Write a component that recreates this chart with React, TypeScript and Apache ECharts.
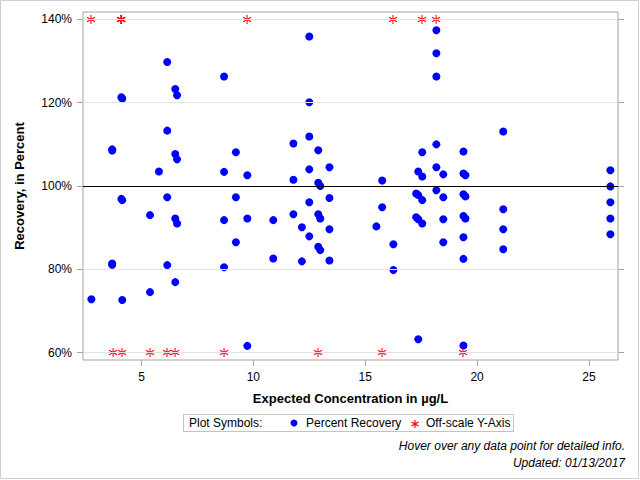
import React, { useEffect, useRef } from 'react';
import * as echarts from 'echarts';

// Percent Recovery points: expected concentration (µg/L) and recovery (%)
const recoveryConc = [
  2.76,
  3.69, 3.69, 3.69, 3.69,
  4.10, 4.14, 4.10, 4.14, 4.14,
  5.38, 5.38,
  5.78,
  6.15, 6.15, 6.15, 6.15,
  6.51, 6.51, 6.51, 6.51,
  6.59, 6.59, 6.59,
  8.69, 8.69, 8.69, 8.69,
  9.22, 9.22, 9.22,
  9.73, 9.73, 9.73,
  10.89, 10.89,
  11.79, 11.79, 11.79,
  12.17, 12.17,
  12.50, 12.50, 12.50, 12.50, 12.50, 12.50,
  12.90, 12.90, 12.90, 12.90,
  12.99, 12.99, 12.99,
  13.40, 13.40, 13.40, 13.40,
  15.50,
  15.76, 15.76,
  16.26, 16.26,
  17.28, 17.28,
  17.37, 17.37, 17.37, 17.37,
  17.55, 17.55, 17.55, 17.55,
  18.18, 18.18, 18.18, 18.18, 18.18, 18.18,
  18.49, 18.49, 18.49, 18.49,
  19.39, 19.39, 19.39, 19.39, 19.39, 19.39, 19.39,
  19.48, 19.48, 19.48,
  21.17, 21.17, 21.17, 21.17,
  25.96, 25.96, 25.96, 25.96, 25.96,
];
const recoveryPct = [
  72.8,
  108.8, 108.5, 81.4, 81.1,
  121.3, 121.0, 96.9, 96.6, 72.6,
  93.0, 74.5,
  103.5,
  129.8, 113.3, 97.3, 81.0,
  123.3, 107.7, 92.2, 76.9,
  121.8, 106.4, 91.0,
  126.3, 103.4, 91.8, 80.5,
  108.1, 97.3, 86.5,
  102.6, 92.2, 61.6,
  91.8, 82.6,
  110.2, 101.5, 93.2,
  90.1, 81.9,
  135.9, 120.1, 111.9, 104.0, 96.1, 87.9,
  108.6, 100.8, 93.2, 85.4,
  100.0, 92.2, 84.6,
  104.5, 97.1, 89.6, 82.1,
  90.3,
  101.3, 94.9,
  86.0, 79.8,
  98.2, 92.5,
  103.5, 97.8, 92.0, 63.2,
  108.1, 102.3, 96.6, 91.0,
  137.4, 131.9, 126.3, 110.0, 104.5, 99.0,
  102.8, 97.3, 92.0, 86.5,
  108.3, 103.0, 98.0, 92.8, 87.7, 82.5, 61.7,
  102.6, 97.5, 92.2,
  113.1, 94.4, 89.6, 84.8,
  103.8, 99.9, 96.1, 92.2, 88.4,
];

// Off-scale points, drawn at the edge of the Y axis
const offscaleConc = [2.74, 4.07, 4.11, 9.72, 16.24, 17.54, 18.17, 3.73, 4.13, 5.38, 6.14, 6.50, 8.69, 12.89, 15.75, 19.37];
const offscalePct = [140, 140, 140, 140, 140, 140, 140, 60, 60, 60, 60, 60, 60, 60, 60, 60];

const yTicks = [60, 80, 100, 120, 140];
const xTicks = [5, 10, 15, 20, 25];
const gridLineValues = [60, 80, 120, 140];
const referenceValue = 100;

const FONT = '"Liberation Sans", Arial, sans-serif';
const ASTERISK = 'path://M5,0L5,10M0.67,2.5L9.33,7.5M0.67,7.5L9.33,2.5';

export default function App() {
  const ref = useRef<HTMLDivElement>(null);
  useEffect(() => {
    if (!ref.current) return;
    const chart = echarts.init(ref.current, undefined, { renderer: 'svg' });
    const recoveryData = recoveryConc.map((x, i) => [x, recoveryPct[i]]);
    const offscaleData = offscaleConc.map((x, i) => [x, offscalePct[i]]);
    const axisGray = '#a3a3a3';
    const legendY = 423;
    chart.setOption({
      animation: false,
      backgroundColor: '#ffffff',
      grid: {
        left: 83, right: 22, top: 12, bottom: 120,
        show: true, borderColor: axisGray, borderWidth: 1, backgroundColor: 'transparent',
      },
      xAxis: {
        type: 'value', min: 2.385, max: 26.3,
        name: 'Expected Concentration in µg/L', nameLocation: 'middle', nameGap: 32,
        nameTextStyle: { fontFamily: FONT, fontSize: 13, fontWeight: 'bold', color: '#000' },
        axisLine: { show: false },
        axisTick: { show: true, length: 6, lineStyle: { color: axisGray }, customValues: xTicks },
        axisLabel: { color: '#000', fontFamily: FONT, fontSize: 12, margin: 11, customValues: xTicks },
        splitLine: { show: false },
      },
      yAxis: [
        {
          type: 'value', min: 58.2, max: 141.8, position: 'left',
          name: 'Recovery, in Percent', nameLocation: 'middle', nameGap: 57,
          nameTextStyle: { fontFamily: FONT, fontSize: 13, fontWeight: 'bold', color: '#000' },
          axisLine: { show: false },
          axisTick: { show: true, length: 6, lineStyle: { color: axisGray }, customValues: yTicks },
          axisLabel: { color: '#000', fontFamily: FONT, fontSize: 12, margin: 11, formatter: '{value}%', customValues: yTicks },
          splitLine: { show: false },
        },
        {
          type: 'value', min: 58.2, max: 141.8, position: 'right',
          axisLine: { show: false },
          axisTick: { show: true, length: 6, lineStyle: { color: axisGray }, customValues: yTicks },
          axisLabel: { show: false, customValues: yTicks },
          splitLine: { show: false },
        },
      ],
      series: [
        {
          name: 'grid lines',
          type: 'line',
          data: [],
          z: 1,
          silent: true,
          markLine: {
            silent: true,
            symbol: 'none',
            animation: false,
            label: { show: false },
            data: [
              ...gridLineValues.map((v) => ({ yAxis: v, lineStyle: { color: '#e3e3e3', width: 1, type: 'solid' } })),
              { yAxis: referenceValue, lineStyle: { color: '#000000', width: 1, type: 'solid' } },
            ],
          },
        },
        {
          name: 'Percent Recovery',
          type: 'scatter',
          z: 3,
          symbol: 'circle',
          symbolSize: 8,
          itemStyle: { color: '#0000ff', opacity: 1 },
          data: recoveryData,
        },
        {
          name: 'Off-scale Y-Axis',
          type: 'scatter',
          z: 4,
          symbol: ASTERISK,
          symbolSize: [8, 9],
          itemStyle: { color: '#ff0000', borderColor: '#ff0000', borderWidth: 1.1, opacity: 1 },
          data: offscaleData,
        },
      ],
      graphic: [
        {
          type: 'rect', silent: true, z: 0,
          shape: { x: 0.5, y: 0.5, width: 638, height: 478 },
          style: { fill: 'none', stroke: '#cfcfcf', lineWidth: 1 },
        },
        {
          type: 'rect', silent: true,
          shape: { x: 183.5, y: 414.5, width: 330, height: 17 },
          style: { fill: '#ffffff', stroke: '#c3c3c3', lineWidth: 1 },
        },
        {
          type: 'text', silent: true, x: 189, y: legendY,
          style: { text: 'Plot Symbols:', fontFamily: FONT, fontSize: 12, fill: '#000', verticalAlign: 'middle', align: 'left' },
        },
        {
          type: 'circle', silent: true,
          shape: { cx: 294, cy: legendY, r: 3.5 },
          style: { fill: '#0000ff' },
        },
        {
          type: 'text', silent: true, x: 306, y: legendY,
          style: { text: 'Percent Recovery', fontFamily: FONT, fontSize: 12, fill: '#000', verticalAlign: 'middle', align: 'left' },
        },
        {
          type: 'group', silent: true, x: 415, y: legendY + 1,
          children: [
            { type: 'line', shape: { x1: 0, y1: -4, x2: 0, y2: 4 }, style: { stroke: '#ff0000', lineWidth: 1.2 } },
            { type: 'line', shape: { x1: -3.5, y1: -2, x2: 3.5, y2: 2 }, style: { stroke: '#ff0000', lineWidth: 1.2 } },
            { type: 'line', shape: { x1: -3.5, y1: 2, x2: 3.5, y2: -2 }, style: { stroke: '#ff0000', lineWidth: 1.2 } },
          ],
        },
        {
          type: 'text', silent: true, x: 426, y: legendY,
          style: { text: 'Off-scale Y-Axis', fontFamily: FONT, fontSize: 12, fill: '#000', verticalAlign: 'middle', align: 'left' },
        },
        {
          type: 'text', silent: true, x: 625, y: 446,
          style: { text: 'Hover over any data point for detailed info.', fontFamily: FONT, fontSize: 12, fontStyle: 'italic', fill: '#000', verticalAlign: 'middle', align: 'right' },
        },
        {
          type: 'text', silent: true, x: 625, y: 463,
          style: { text: 'Updated: 01/13/2017', fontFamily: FONT, fontSize: 12, fontStyle: 'italic', fill: '#000', verticalAlign: 'middle', align: 'right' },
        },
      ],
    });
    return () => chart.dispose();
  }, []);
  return (
    <div
      ref={ref}
      style={{ position: 'absolute', left: 0, top: 0, width: 640, height: 480 }}
    />
  );
}
